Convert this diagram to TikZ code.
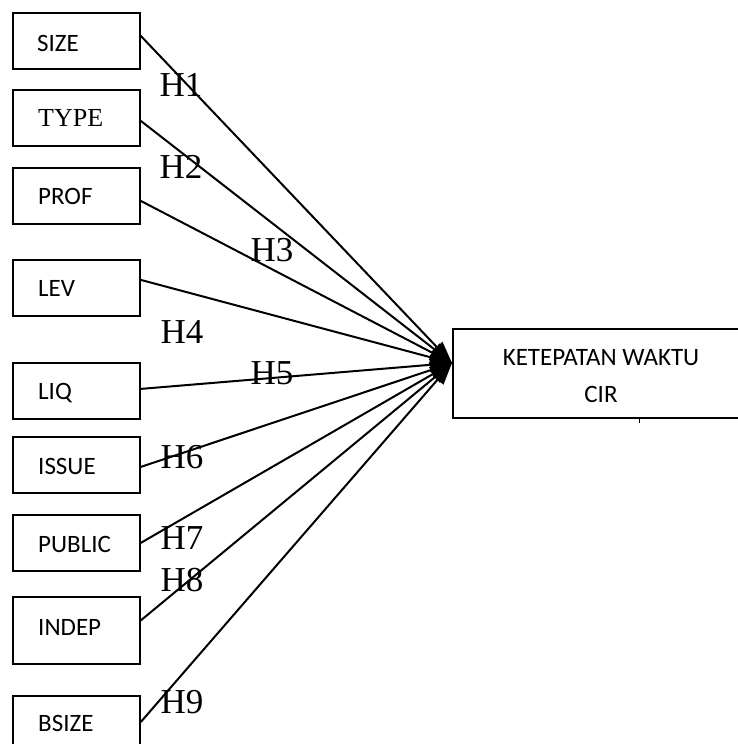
\documentclass[tikz,border=0pt]{standalone}
\usepackage{fontspec}
\setmainfont{Carlito}
\newfontfamily\serifh{Liberation Serif}
\usetikzlibrary{arrows.meta}
\begin{document}
\begin{tikzpicture}[x=1pt,y=-1pt,
  varbox/.style={draw, line width=1.8pt, minimum width=127pt, minimum height=56pt, inner sep=0pt, anchor=north west},
  lbl/.style={font=\fontsize{25}{30}\selectfont, inner sep=0pt, anchor=west},
  hlbl/.style={font=\serifh\fontsize{35}{40}\selectfont, inner sep=0pt},
  link/.style={line width=2pt, -{Triangle[length=22pt,width=15pt]}}]
\useasboundingbox (0,0) rectangle (738,744);
\clip (0,0) rectangle (738,744);
\fill[white] (0,0) rectangle (738,744);
% left boxes
\node[varbox] (size) at (12,12) {};
\node[varbox] (type) at (12,89) {};
\node[varbox] (prof) at (12,167) {};
\node[varbox] (lev) at (12,259) {};
\node[varbox] (liq) at (12,362) {};
\node[varbox] (issue) at (12,436) {};
\node[varbox] (public) at (12,514) {};
\node[varbox, minimum height=67pt] (indep) at (12,596) {};
\node[varbox] (bsize) at (12,695) {};
\node[lbl] (tsize) at ([xshift=25pt,yshift=-3pt]size.west) {SIZE};
\node[lbl, font=\serifh\fontsize{26}{30}\selectfont] (ttype) at ([xshift=26pt]type.west) {TYPE};
\node[lbl] (tprof) at ([xshift=26pt,yshift=-1pt]prof.west) {PROF};
\node[lbl] (tlev) at ([xshift=26pt,yshift=-1pt]lev.west) {LEV};
\node[lbl] (tliq) at ([xshift=26pt,yshift=-2pt]liq.west) {LIQ};
\node[lbl] (tissue) at ([xshift=26pt,yshift=-2pt]issue.west) {ISSUE};
\node[lbl] (tpublic) at ([xshift=26pt,yshift=-2pt]public.west) {PUBLIC};
\node[lbl] (tindep) at ([xshift=26pt,yshift=3pt]indep.west) {INDEP};
\node[lbl] (tbsize) at ([xshift=26pt]bsize.west) {BSIZE};
% right box
\node[draw, line width=1.8pt, minimum width=300pt, minimum height=89pt, inner sep=0pt, anchor=north west] (cir) at (452,328) {};
\node[font=\fontsize{25}{37}\selectfont, align=center, inner sep=0pt] (tcir) at (601,376) {KETEPATAN WAKTU\\CIR};
\coordinate (tickend) at (639,423);
\draw[line width=1pt] (cir.south -| tickend) -- (tickend);
% convergence point
\coordinate (tip) at (452,363);
\draw[link] ([yshift=5pt]size.east) -- (tip);
\draw[link] ([yshift=-3pt]type.east) -- (tip);
\draw[link] ([yshift=-5pt]prof.east) -- (tip);
\draw[link] ([yshift=8pt]lev.east) -- (tip);
\draw[link] ([yshift=2pt]liq.east) -- (tip);
\draw[link] ([yshift=-2pt]issue.east) -- (tip);
\draw[link] (public.east) -- (tip);
\draw[link] ([yshift=10pt]indep.east) -- (tip);
\draw[link] ([yshift=-27pt]bsize.north east) -- (tip);
% hypothesis labels
\node[hlbl] (h1) at (181,85) {H1};
\node[hlbl] (h2) at (181,167) {H2};
\node[hlbl] (h3) at (272,250) {H3};
\node[hlbl] (h4) at (182,332) {H4};
\node[hlbl] (h5) at (272,373) {H5};
\node[hlbl] (h6) at (182,457) {H6};
\node[hlbl] (h7) at (182,538) {H7};
\node[hlbl] (h8) at (182,580) {H8};
\node[hlbl] (h9) at (182,702) {H9};
\end{tikzpicture}
\end{document}
